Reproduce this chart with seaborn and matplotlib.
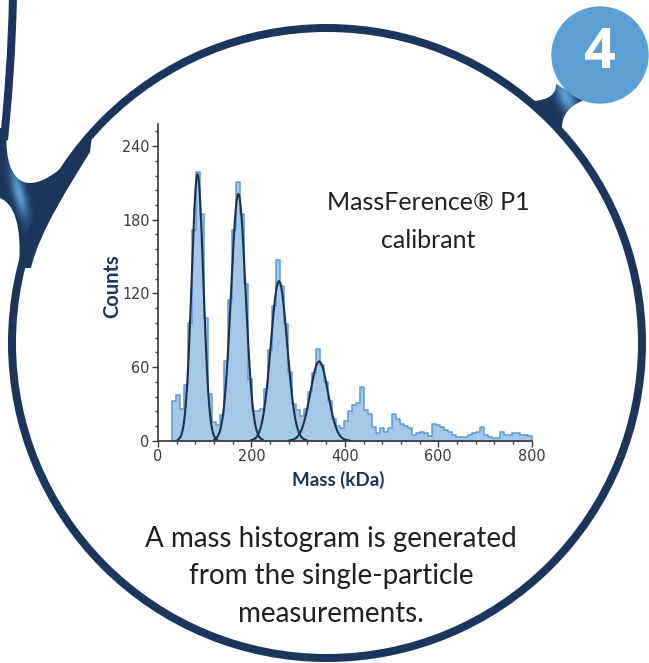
import numpy as np
import pandas as pd
import matplotlib
matplotlib.use("Agg")
import matplotlib.pyplot as plt
import seaborn as sns
from matplotlib import font_manager
from matplotlib.patches import Circle, PathPatch
from matplotlib.path import Path
from matplotlib.colors import to_rgb
from matplotlib.ticker import MultipleLocator

# ---------------- data ----------------
bin_start = 30
bin_end = 800
n_bins = 90
counts = [32, 37, 26, 45, 96, 172, 219, 185, 100, 38,
          15, 13, 21, 65, 115, 172, 211, 185, 128, 50,
          24, 24, 26, 42, 74, 110, 147, 126, 95, 56,
          30, 25, 20, 26, 40, 55, 75, 62, 48, 32,
          18, 12, 10, 16, 24, 29, 31, 44, 25, 22,
          11, 6, 10, 7, 10, 22, 18, 14, 12, 10,
          5, 6, 7, 6, 4, 14, 13, 11, 9, 7,
          5, 3, 3, 3, 5, 6, 7, 11, 5, 3,
          2, 2, 7, 5, 5, 6, 6, 5, 5, 4]
peak_mass = [84.5, 172, 259, 345]
peak_sigma = [12.5, 15.5, 17.5, 19]
peak_height = [217, 201, 130, 64.5]
x_ticks = [0, 200, 400, 600, 800]
y_ticks = [0, 60, 120, 180, 240]
x_label = "Mass (kDa)"
y_label = "Counts"
title_lines = ["MassFerence® P1", "calibrant"]
caption_lines = ["A mass histogram is generated", "from the single-particle", "measurements."]
badge_text = "4"

# ---------------- style ----------------
W, H, DPI = 649, 663, 100
PT = 72.0 / DPI
NAVY = "#1b365d"
LIGHT = "#5b9fd5"
sns.set_theme(style="white")
plt.rcParams["font.family"] = ["Lato", "DejaVu Sans"]

names = {f.name for f in font_manager.fontManager.ttflist}
if "Liberation Sans Narrow" in names:
    tick_font = dict(family=["Liberation Sans Narrow", "DejaVu Sans"])
else:
    tick_font = dict(family=["DejaVu Sans"], stretch="condensed")

fig = plt.figure(figsize=(W / DPI, H / DPI), dpi=DPI)
fig.patch.set_facecolor("white")

bg = fig.add_axes([0, 0, 1, 1], zorder=0)
bg.axis("off")

M, L, C4, CL = Path.MOVETO, Path.LINETO, Path.CURVE4, Path.CLOSEPOLY


def spot_fill(ax, verts, codes, box, center, a, b, ang, z):
    patch = PathPatch(Path(verts, codes), facecolor="none", edgecolor="none")
    ax.add_patch(patch)
    x0, x1, y0, y1 = box
    xs = np.linspace(x0, x1, int((x1 - x0) * 3))
    ys = np.linspace(y0, y1, int((y1 - y0) * 3))
    X, Y = np.meshgrid(xs, ys)
    th = np.deg2rad(ang)
    u = (X - center[0]) * np.cos(th) + (Y - center[1]) * np.sin(th)
    v = -(X - center[0]) * np.sin(th) + (Y - center[1]) * np.cos(th)
    t = np.exp(-(u / a) ** 2 - (v / b) ** 2)[..., None]
    img = np.array(to_rgb(NAVY)) * (1 - t) + np.array(to_rgb(LIGHT)) * t
    im = ax.imshow(img, extent=(x0, x1, y1, y0), origin="upper", aspect="auto",
                   zorder=z, interpolation="bilinear")
    im.set_clip_path(patch)


# left junction
jv = [(0, 128), (0, 198), (14, 204), (22, 224), (19, 268), (31, 268),
      (40, 230), (70, 185), (90, 152), (92, 136),
      (60, 175), (35, 190), (20, 180),
      (8, 172), (5, 150), (7, 128), (0, 128)]
jc = [M, L, C4, C4, C4, L, C4, C4, C4, L, C4, C4, C4, C4, C4, C4, CL]
spot_fill(bg, jv, jc, (0, 95, 120, 272), (19, 193), 26, 6, 75, 1)

# top-left line
tl = Path([(13, -5), (12, 50), (8, 100), (4, 140)], [M, C4, C4, C4])
bg.add_patch(PathPatch(tl, facecolor="none", edgecolor=NAVY, lw=8 * PT, zorder=2))

# neck to badge
nv = [(533, 101), (548, 100), (556, 95), (556, 84), (584, 100),
      (570, 106), (562, 114), (562, 128), (548, 117), (533, 101)]
nc = [M, C4, C4, C4, L, C4, C4, C4, L, CL]
spot_fill(bg, nv, nc, (530, 586, 80, 130), (566, 97), 20, 8, 65, 1)

# main circle
bg.add_patch(Circle((327, 343), 315, fill=False, lw=8 * PT, ec=NAVY, zorder=3))

# badge
bg.add_patch(Circle((600, 55), 48, color=LIGHT, zorder=3))
bg.text(600, 54, badge_text, color="white", fontsize=40, fontweight="bold",
        ha="center", va="center", zorder=4, family=["Open Sans", "DejaVu Sans"])

bg.set_xlim(0, W)
bg.set_ylim(H, 0)

# ---------------- chart ----------------
ax = fig.add_axes([158 / W, 1 - 440.7 / H, (531.7 - 158) / W, (440.7 - 124) / H], zorder=5)
ax.set_facecolor("none")

bw = (bin_end - bin_start) / n_bins
centers = bin_start + bw * (np.arange(n_bins) + 0.5)
df = pd.DataFrame({"mass": centers, "count": counts})
sns.histplot(data=df, x="mass", weights="count", binwidth=bw,
             binrange=(bin_start, bin_end), element="step",
             fill=True, color="#5b9bd5", alpha=0.5, ax=ax)
for coll in ax.collections:
    coll.set_facecolor("#a5c7e8")
    coll.set_edgecolor("#5b9bd5")
    coll.set_linewidth(1.1)
for ln in ax.lines:
    ln.set_color("#5b9bd5")

for mu, s, a in zip(peak_mass, peak_sigma, peak_height):
    xs = np.linspace(mu - 3.4 * s, mu + 3.4 * s, 200)
    ys = a * np.exp(-0.5 * ((xs - mu) / s) ** 2)
    sns.lineplot(x=xs, y=ys, ax=ax, color="#1e2f4d", lw=1.5)

ax.set_xlim(0, 800)
ax.set_ylim(0, 258)
ax.set_xticks(x_ticks)
ax.set_yticks(y_ticks)
ax.xaxis.set_minor_locator(MultipleLocator(40))
ax.yaxis.set_minor_locator(MultipleLocator(12))
ax.set_xlabel("")
ax.set_ylabel("")
for sp in ["top", "right"]:
    ax.spines[sp].set_visible(False)
for sp in ["left", "bottom"]:
    ax.spines[sp].set_color("#3a3a3a")
    ax.spines[sp].set_linewidth(1.2)
ax.tick_params(which="both", bottom=True, left=True, direction="out",
               color="#3a3a3a", width=1)
ax.tick_params(which="major", length=4, pad=2, labelsize=11.5, labelcolor="#3c3c3c")
ax.tick_params(which="minor", length=2.5)
for lab in ax.get_xticklabels() + ax.get_yticklabels():
    lab.set(**tick_font)

# ---------------- texts ----------------
bg.text(112, 286, y_label, rotation=90, color=NAVY, fontsize=14.5, fontweight="bold",
        ha="center", va="center", zorder=6)
bg.text(338, 480, x_label, color=NAVY, fontsize=13.5, fontweight="bold",
        ha="center", va="center", zorder=6)

for txt, yb in zip(title_lines, [210, 248]):
    bg.text(428, yb, txt, color="#231f20", fontsize=18, fontweight="normal",
            ha="center", va="baseline", zorder=6)
for txt, yb in zip(caption_lines, [547, 584, 622]):
    bg.text(331, yb, txt, color="#231f20", fontsize=20, fontweight="normal",
            ha="center", va="baseline", zorder=6)

fig.savefig("out.png", dpi=DPI, facecolor="white")
